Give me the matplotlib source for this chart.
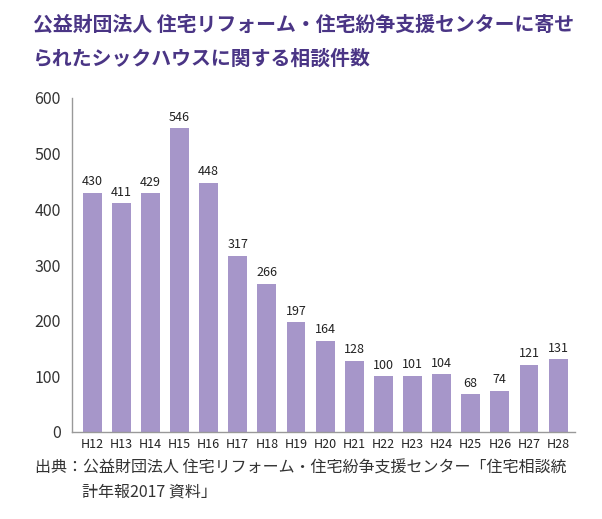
import matplotlib
matplotlib.use("Agg")
import matplotlib.pyplot as plt

plt.rcParams['font.family'] = ['Noto Sans CJK JP', 'DejaVu Sans']

categories = ["H12", "H13", "H14", "H15", "H16", "H17", "H18", "H19", "H20",
              "H21", "H22", "H23", "H24", "H25", "H26", "H27", "H28"]
values = [430, 411, 429, 546, 448, 317, 266, 197, 164, 128, 100, 101, 104, 68, 74, 121, 131]
yticks = [0, 100, 200, 300, 400, 500, 600]

title1 = "公益財団法人 住宅リフォーム・住宅紛争支援センターに寄せ"
title2 = "られたシックハウスに関する相談件数"
source1 = "出典：公益財団法人 住宅リフォーム・住宅紛争支援センター「住宅相談統"
source2 = "計年報2017 資料」"

W, H = 602, 519
fig = plt.figure(figsize=(W/100, H/100), dpi=100)
ax = fig.add_axes([72/W, 1-432/H, (575-72)/W, (432-98)/H])

x = list(range(len(categories)))
ax.bar(x, values, width=0.65, color="#a696c9")
for xi, v in zip(x, values):
    ax.text(xi, v + 8, str(v), ha="center", va="bottom", fontsize=9, color="#222222")

ax.set_xlim(-0.69, 16.58)
ax.set_ylim(0, 600)
ax.set_yticks(yticks)
ax.set_yticklabels([str(t) for t in yticks], fontsize=11.5, color="#333333")
ax.set_xticks(x)
ax.set_xticklabels(categories, fontsize=9, color="#222222")
ax.tick_params(axis="both", length=0)
ax.tick_params(axis="y", pad=8)
ax.tick_params(axis="x", pad=4)
for s in ["top", "right"]:
    ax.spines[s].set_visible(False)
for s in ["left", "bottom"]:
    ax.spines[s].set_color("#999999")
    ax.spines[s].set_linewidth(1.0)

fig.text(33/W, 1-24/H, title1, fontsize=14.3, fontweight="bold", color="#4a3585",
         ha="left", va="center")
fig.text(33/W, 1-58/H, title2, fontsize=14.3, fontweight="bold", color="#4a3585",
         ha="left", va="center")
fig.text(35/W, 1-468/H, source1, fontsize=11.5, color="#333333", ha="left", va="center")
fig.text(82/W, 1-492/H, source2, fontsize=11.5, color="#333333", ha="left", va="center")

fig.savefig("out.png", dpi=100)
